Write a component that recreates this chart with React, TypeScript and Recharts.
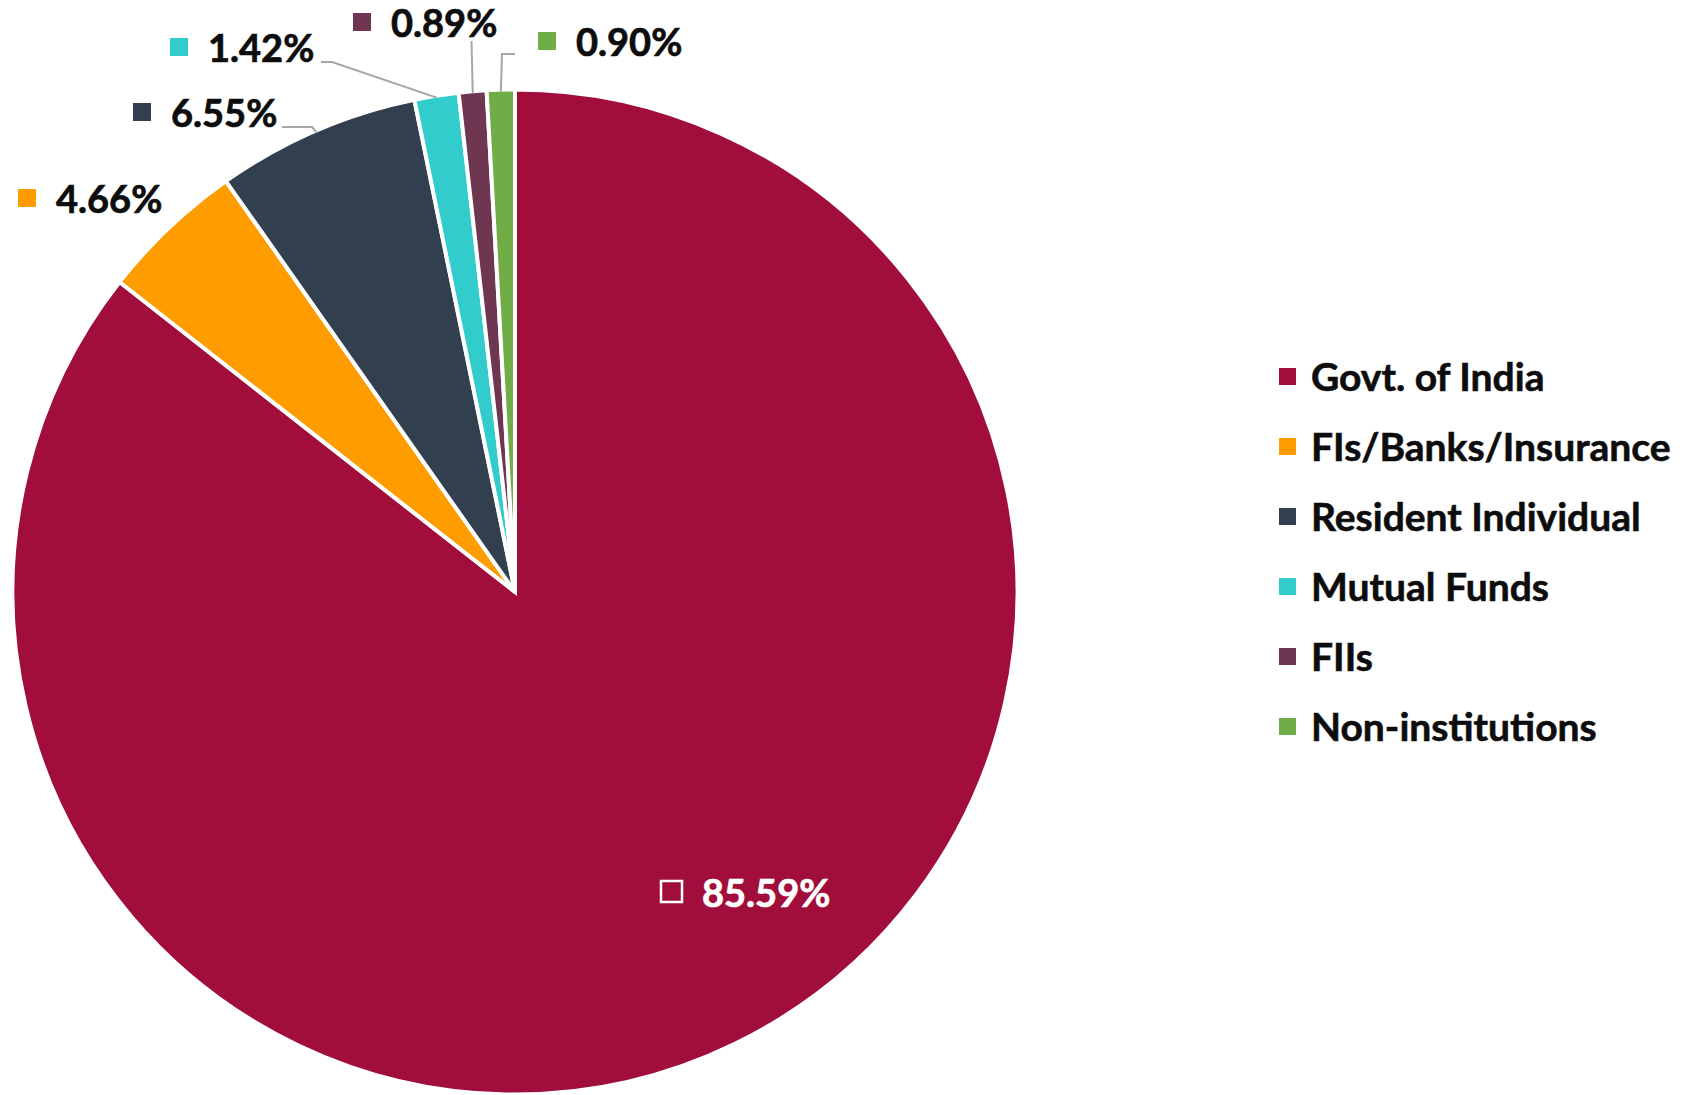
import React from 'react';
import { PieChart, Pie, Cell, Legend } from 'recharts';

const categories = ['Govt. of India', 'FIs/Banks/Insurance', 'Resident Individual', 'Mutual Funds', 'FIIs', 'Non-institutions'];
const shares = [85.59, 4.66, 6.55, 1.42, 0.89, 0.9];
const colors = ['#A10E3B', '#FF9C00', '#323F4F', '#33CCCC', '#6F3652', '#70AD47'];

const data = categories.map((name, i) => ({ name, value: shares[i] }));

const FONT = 'Lato, "Open Sans", sans-serif';
const LABEL_SIZE = 38;

// label placement, offsets from the pie centre (marker left edge, text mid line)
// line: extra leader points before it reaches the slice edge
const labelLayout = [
  { mx: 145, my: 300, line: [] as number[][] },
  { mx: -497, my: -394, line: [] },
  { mx: -382, my: -480, line: [[-233, -465], [-203, -465]] },
  { mx: -345, my: -545, line: [[-194, -530], [-183, -530]] },
  { mx: -162, my: -570, line: [[-43.5, -551]] },
  { mx: 23, my: -551, line: [[0, -538], [-13, -538]] },
];

function renderLabel(props: any) {
  const { cx, cy, midAngle, outerRadius, index, value } = props;
  const lay = labelLayout[index];
  const RAD = Math.PI / 180;
  const r = outerRadius - 2;
  const ex = cx + r * Math.cos(-midAngle * RAD);
  const ey = cy + r * Math.sin(-midAngle * RAD);
  const x = cx + lay.mx;
  const y = cy + lay.my;
  const inside = index === 0;
  const pts = lay.line.map((p) => [cx + p[0], cy + p[1]]);
  const ink = inside ? '#fff' : '#0D0D0D';
  return (
    <g key={`lbl-${index}`}>
      {pts.length > 0 && (
        <polyline
          points={[...pts, [ex, ey]].map((p) => p.join(',')).join(' ')}
          fill="none"
          stroke="#A6A6A6"
          strokeWidth={2}
        />
      )}
      {inside ? (
        <rect x={x + 1} y={y - 11} width={21} height={21} fill="none" stroke="#fff" strokeWidth={2.5} />
      ) : (
        <rect x={x} y={y - 9} width={18} height={18} fill={colors[index]} />
      )}
      <text
        x={x + (inside ? 42 : 38)}
        y={y}
        dominantBaseline="central"
        fill={ink}
        stroke={ink}
        strokeWidth={0.7}
        fontFamily={FONT}
        fontWeight={700}
        fontSize={LABEL_SIZE}
      >
        {`${Number(value).toFixed(2)}%`}
      </text>
    </g>
  );
}

function renderLegend() {
  return (
    <div>
      {categories.map((name, i) => (
        <div key={`leg-${i}`} style={{ display: 'flex', alignItems: 'center', height: 70 }}>
          <span style={{ width: 17, height: 17, background: colors[i], marginRight: 15, flexShrink: 0 }} />
          <span
            style={{
              fontFamily: FONT,
              fontWeight: 700,
              fontSize: 39,
              color: '#0D0D0D',
              whiteSpace: 'nowrap',
              WebkitTextStroke: '0.6px #0D0D0D',
            }}
          >
            {name}
          </span>
        </div>
      ))}
    </div>
  );
}

export default function App() {
  return (
    <div style={{ position: 'absolute', left: 0, top: 0, width: 1688, height: 1095, background: '#fff' }}>
      <PieChart width={1688} height={1095} margin={{ top: 0, right: 0, bottom: 0, left: 0 }}>
        <Pie
          data={data}
          dataKey="value"
          nameKey="name"
          cx={515}
          cy={592}
          outerRadius={502.5}
          startAngle={90}
          endAngle={-270}
          stroke="#fff"
          strokeWidth={4}
          label={renderLabel}
          labelLine={false}
          isAnimationActive={false}
        >
          {data.map((d, i) => (
            <Cell key={d.name} fill={colors[i]} />
          ))}
        </Pie>
        <Legend
          layout="vertical"
          verticalAlign="middle"
          align="right"
          content={renderLegend}
          wrapperStyle={{ position: 'absolute', left: 1279, top: 341, width: 409 }}
        />
      </PieChart>
    </div>
  );
}
